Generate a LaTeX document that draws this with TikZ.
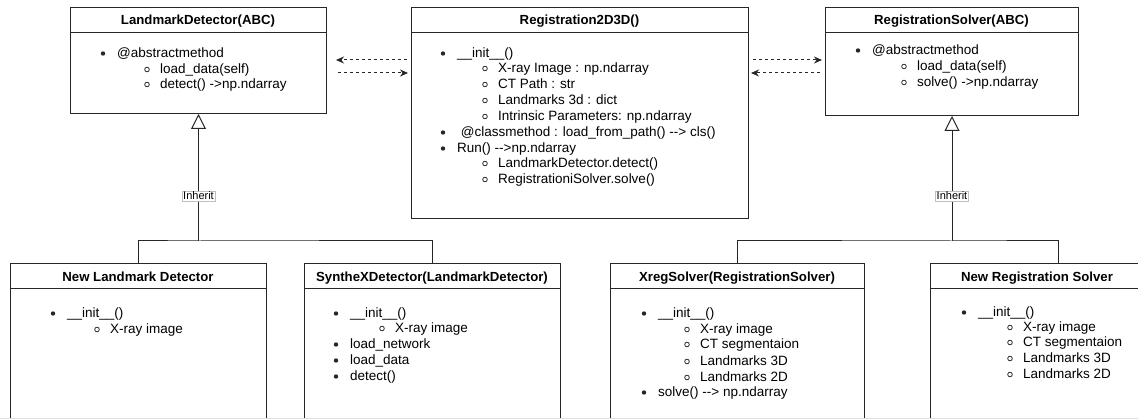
\documentclass[tikz,border=0pt]{standalone}
\usepackage{fontspec}
\setmainfont{Liberation Sans}
\usetikzlibrary{arrows.meta,calc}
\tikzset{
 box/.style={draw=black!85, line width=1pt, fill=white, anchor=north west, inner sep=0pt},
 ttl/.style={font=\bfseries\fontsize{13.2}{16}\selectfont, anchor=base, inner sep=0pt},
 txt/.style={font=\fontsize{13.5}{16}\selectfont, anchor=base west, inner sep=0pt},
 conn/.style={draw=black!85, line width=1pt},
 inh/.style={conn, -{Triangle[open, width=15pt, length=15pt]}},
 dasharr/.style={draw=black!85, line width=1pt, dash pattern=on 3pt off 3pt, -{Stealth[length=8pt,width=7pt]}},
 lbl/.style={draw=black!25, fill=white, font=\fontsize{11}{12}\selectfont, inner sep=1.2pt},
}
\newcommand\bi[4]{\fill[black!85] (#2,{#3+0.5}) circle (2.2pt); \node[txt] (#1) at ({#2+14},{#3+5}) {#4};}
\newcommand\ci[4]{\draw[black!85, line width=0.8pt] (#2,{#3+0.5}) circle (2.3pt); \node[txt] (#1) at ({#2+13},{#3+5}) {#4};}
\newcommand\hdr[1]{\draw[conn] ([yshift=-26pt]#1.north west) -- ([yshift=-26pt]#1.north east);}
\begin{document}
\begin{tikzpicture}[x=1pt,y=-1pt]
\fill[white] (0,0) rectangle (1138,419);
\useasboundingbox (0,0) rectangle (1138,419);

% top boxes
\node[box, minimum width=256pt, minimum height=106pt] (b1) at (70,7) {};
\hdr{b1}
\node[ttl] (t1) at (198,25) {LandmarkDetector(ABC)};
\bi{b1a}{103}{53}{@abstractmethod}
\ci{b1b}{147}{69}{load\_data(self)}
\ci{b1c}{147}{84}{detect() ->np.ndarray}

\node[box, minimum width=337pt, minimum height=211pt] (b2) at (411,7) {};
\hdr{b2}
\node[ttl] (t2) at (579.5,25) {Registration2D3D()};
\bi{b2a}{443}{53}{\_\_init\_\_()}
\ci{b2b}{485}{68}{X-ray Image : np.ndarray}
\ci{b2c}{485}{84}{CT Path : str}
\ci{b2d}{485}{100}{Landmarks 3d : dict}
\ci{b2e}{485}{116}{Intrinsic Parameters: np.ndarray}
\bi{b2f}{443}{132}{\ @classmethod : load\_from\_path() -{}-> cls()}
\bi{b2g}{443}{148}{Run() -{}->np.ndarray}
\ci{b2h}{485}{163}{LandmarkDetector.detect()}
\ci{b2i}{485}{179}{RegistrationiSolver.solve()}

\node[box, minimum width=253pt, minimum height=108pt] (b3) at (825,7) {};
\hdr{b3}
\node[ttl] (t3) at (951.5,25) {RegistrationSolver(ABC)};
\bi{b3a}{858}{50}{@abstractmethod}
\ci{b3b}{904}{66}{load\_data(self)}
\ci{b3c}{904}{82}{solve() ->np.ndarray}

% bottom boxes
\node[box, minimum width=256pt, minimum height=200pt] (b4) at (10,263) {};
\hdr{b4}
\node[ttl] (t4) at (138,282) {New Landmark Detector};
\bi{b4a}{53}{313}{\_\_init\_\_()}
\ci{b4b}{97}{329}{X-ray image}

\node[box, minimum width=256pt, minimum height=200pt] (b5) at (304,263) {};
\hdr{b5}
\node[ttl] (t5) at (432,282) {SyntheXDetector(LandmarkDetector)};
\bi{b5a}{336}{313}{\_\_init\_\_()}
\ci{b5b}{382}{328}{X-ray image}
\bi{b5c}{336}{344}{load\_network}
\bi{b5d}{336}{360}{load\_data}
\bi{b5e}{336}{376}{detect()}

\node[box, minimum width=254pt, minimum height=200pt] (b6) at (610,263) {};
\hdr{b6}
\node[ttl] (t6) at (737,282) {XregSolver(RegistrationSolver)};
\bi{b6a}{644}{313}{\_\_init\_\_()}
\ci{b6b}{687}{329}{X-ray image}
\ci{b6c}{687}{344}{CT segmentaion}
\ci{b6d}{687}{361}{Landmarks 3D}
\ci{b6e}{687}{377}{Landmarks 2D}
\bi{b6f}{644}{392}{solve() -{}-> np.ndarray}

\node[box, minimum width=256pt, minimum height=200pt] (b7) at (930,263) {};
\hdr{b7}
\node[ttl] (t7) at (1037,282) {New Registration Solver};
\bi{b7a}{964}{312}{\_\_init\_\_()}
\ci{b7b}{1010}{327}{X-ray image}
\ci{b7c}{1010}{342}{CT segmentaion}
\ci{b7d}{1010}{358}{Landmarks 3D}
\ci{b7e}{1010}{374}{Landmarks 2D}

% faint lower edge of the canvas
\draw[black!12, line width=1pt] (0,418.5) -- (1138,418.5);

% inheritance
\coordinate (hy) at (0,241);
\coordinate (ly) at (0,196);
\coordinate (j1) at (b1.south |- hy);
\coordinate (j2) at (b3.south |- hy);
\draw[conn] (b4.north) |- (j1) -| (b5.north);
\draw[inh] (j1) -- (b1.south);
\node[lbl] (l1) at (b1.south |- ly) {Inherit};
\draw[conn] (b6.north) |- (j2) -| (b7.north);
\draw[inh] (j2) -- (b3.south);
\node[lbl] (l2) at (b3.south |- ly) {Inherit};

% dashed associations
\draw[dasharr] ([xshift=-4pt,yshift=-53pt]b2.north west) -- ([xshift=9pt,yshift=-53pt]b1.north east);
\draw[dasharr] ([xshift=11pt,yshift=-66pt]b1.north east) -- ([xshift=-3pt,yshift=-66pt]b2.north west);
\draw[dasharr] ([xshift=4pt,yshift=-53pt]b2.north east) -- ([xshift=-3pt,yshift=-53pt]b3.north west);
\draw[dasharr] ([xshift=-5pt,yshift=-66pt]b3.north west) -- ([xshift=2pt,yshift=-66pt]b2.north east);
\end{tikzpicture}
\end{document}
